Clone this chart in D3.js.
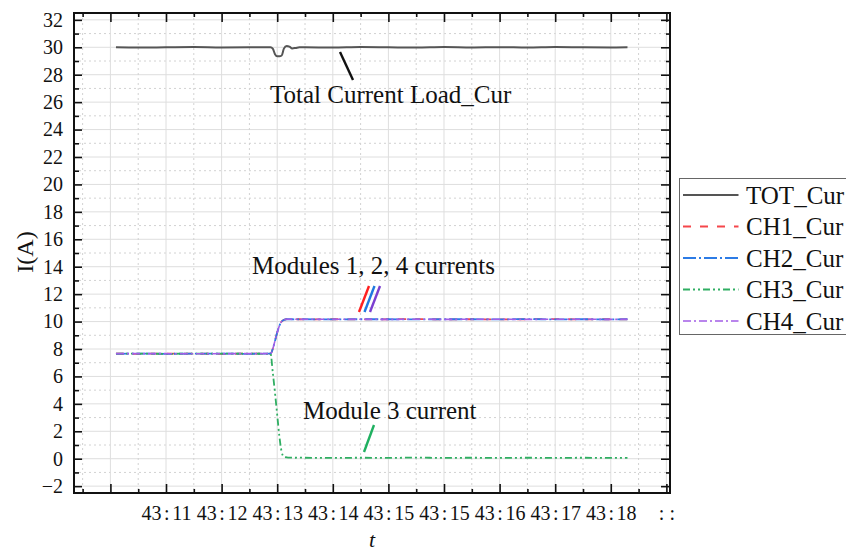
<!DOCTYPE html>
<html>
<head>
<meta charset="utf-8">
<script src="https://cdn.jsdelivr.net/npm/d3@7"></script>
<style>
  body { margin: 0; background: #fff; }
  text { font-family: "Liberation Serif", "Times New Roman", serif; fill: #111; }
</style>
</head>
<body>
<div id="chart-container"></div>
<script>
// time axis in "tick units" (tick i sits at t = i)
const timeSec = [0.1, 0.5, 1.0, 1.5, 2.0, 2.5, 2.8, 2.88, 2.92, 2.96, 3.0, 3.04, 3.08, 3.12, 3.17, 3.22, 3.27, 3.33, 3.4, 3.5,
                 4.0, 4.5, 5.0, 5.5, 6.0, 6.5, 7.0, 7.5, 8.0, 8.5, 9.0, 9.3];
const totCur = [30.0, 29.98, 30.0, 30.02, 29.99, 30.0, 30.0, 30.0, 29.9, 29.5, 29.35, 29.35, 29.4, 29.9, 30.1, 30.05, 29.92, 29.95, 30.0, 30.0,
                29.98, 30.02, 30.0, 29.98, 30.02, 29.99, 30.01, 29.98, 30.02, 30.0, 29.99, 30.0];
const ch1Cur = [7.66, 7.65, 7.67, 7.66, 7.65, 7.66, 7.66, 7.66, 8.0, 8.6, 9.2, 9.7, 10.0, 10.12, 10.18, 10.17, 10.16, 10.17, 10.17, 10.16,
                10.17, 10.16, 10.17, 10.18, 10.16, 10.17, 10.16, 10.17, 10.18, 10.16, 10.17, 10.16];
const ch2Cur = [7.65, 7.66, 7.65, 7.66, 7.66, 7.65, 7.66, 7.66, 8.0, 8.6, 9.2, 9.7, 10.0, 10.12, 10.17, 10.17, 10.17, 10.16, 10.17, 10.17,
                10.16, 10.17, 10.17, 10.16, 10.17, 10.17, 10.16, 10.18, 10.16, 10.17, 10.16, 10.17];
const ch3Cur = [7.66, 7.66, 7.65, 7.66, 7.66, 7.66, 7.65, 7.66, 6.3, 4.8, 3.2, 1.6, 0.5, 0.15, 0.1, 0.08, 0.08, 0.07, 0.08, 0.07,
                0.06, 0.07, 0.06, 0.08, 0.06, 0.07, 0.06, 0.07, 0.06, 0.07, 0.06, 0.06];
const ch4Cur = [7.66, 7.66, 7.66, 7.65, 7.66, 7.66, 7.66, 7.66, 8.0, 8.6, 9.2, 9.7, 10.0, 10.12, 10.17, 10.17, 10.16, 10.17, 10.16, 10.17,
                10.17, 10.17, 10.16, 10.17, 10.16, 10.17, 10.17, 10.16, 10.17, 10.17, 10.16, 10.17];

const xTickLabels = ["", "43:11", "43:12", "43:13", "43:14", "43:15", "43:15", "43:16", "43:17", "43:18", "::"];
const yTickValues = [-2, 0, 2, 4, 6, 8, 10, 12, 14, 16, 18, 20, 22, 24, 26, 28, 30, 32];
const seriesNames = ["TOT_Cur", "CH1_Cur", "CH2_Cur", "CH3_Cur", "CH4_Cur"];

// line styles
const styles = {
    TOT_Cur: { color: "#555555", dash: null, w: 2 },
    CH1_Cur: { color: "#f5464b", dash: "8,9", w: 1.8 },
    CH2_Cur: { color: "#2c7be5", dash: "13,3,2,3", w: 1.8 },
    CH3_Cur: { color: "#2fae62", dash: "7,3,2,3,2,3", w: 1.8 },
    CH4_Cur: { color: "#a25ee6", dash: "8,3,2,3", w: 1.6 }
};
const seriesValues = [totCur, ch1Cur, ch2Cur, ch3Cur, ch4Cur];

const W = 846, H = 553;
const margin = { top: 13, right: 176, bottom: 60, left: 74 };
const width = W - margin.left - margin.right, height = H - margin.top - margin.bottom;

const root = d3.select("#chart-container").append("svg")
    .attr("width", W).attr("height", H);
const svg = root.append("g").attr("transform", `translate(${margin.left},${margin.top})`);

const x = d3.scaleLinear().domain([-0.655, 10.065]).range([0, width]);
const y = d3.scaleLinear().domain([-2.5, 32.5]).range([height, 0]);

const xMajor = d3.range(0, 11, 1);
const xMinor = d3.range(-0.5, 10, 1);
const yMinor = d3.range(-1, 33, 2);

// grid
const grid = svg.append("g");
grid.selectAll(".gy").data(yTickValues).enter().append("line")
    .attr("x1", 0).attr("x2", width).attr("y1", d => y(d)).attr("y2", d => y(d))
    .attr("stroke", "#dedede").attr("stroke-width", 1);
grid.selectAll(".gym").data(yMinor).enter().append("line")
    .attr("x1", 0).attr("x2", width).attr("y1", d => y(d)).attr("y2", d => y(d))
    .attr("stroke", "#d2d2d2").attr("stroke-width", 1).attr("stroke-dasharray", "2,3");
grid.selectAll(".gx").data(xMajor).enter().append("line")
    .attr("y1", 0).attr("y2", height).attr("x1", d => x(d)).attr("x2", d => x(d))
    .attr("stroke", "#dedede").attr("stroke-width", 1);
grid.selectAll(".gxm").data(xMinor).enter().append("line")
    .attr("y1", 0).attr("y2", height).attr("x1", d => x(d)).attr("x2", d => x(d))
    .attr("stroke", "#d2d2d2").attr("stroke-width", 1).attr("stroke-dasharray", "2,3");

// lines
const line = d3.line().x(d => x(d[0])).y(d => y(d[1])).curve(d3.curveMonotoneX);
seriesNames.forEach((name, i) => {
    const s = styles[name];
    svg.append("path")
        .datum(timeSec.map((t, j) => [t, seriesValues[i][j]]))
        .attr("fill", "none")
        .attr("stroke", s.color)
        .attr("stroke-width", s.w)
        .attr("stroke-dasharray", s.dash)
        .attr("d", line);
});

// axes (ticks inside)
function tidy(g) {
    g.select(".domain").remove();
    g.attr("font-family", "Liberation Serif").attr("font-size", 20);
    g.selectAll(".tick line").attr("stroke", "#111").attr("stroke-width", 1.6);
}
svg.append("g").call(d3.axisLeft(y).tickValues(yTickValues).tickSize(-8).tickPadding(11))
    .call(tidy)
    .selectAll("text").attr("fill", "#222");
svg.append("g").call(d3.axisLeft(y).tickValues(yMinor).tickSize(-5).tickFormat("")).call(tidy);
svg.append("g").attr("transform", `translate(${width},0)`)
    .call(d3.axisRight(y).tickValues(yTickValues).tickSize(-9).tickFormat("")).call(tidy);
svg.append("g").attr("transform", `translate(${width},0)`)
    .call(d3.axisRight(y).tickValues(yMinor).tickSize(-4).tickFormat("")).call(tidy);
svg.append("g").call(d3.axisTop(x).tickValues(xMajor).tickSize(-9).tickFormat("")).call(tidy);
svg.append("g").call(d3.axisTop(x).tickValues(xMinor).tickSize(-4).tickFormat("")).call(tidy);
svg.append("g").attr("transform", `translate(0,${height})`)
    .call(d3.axisBottom(x).tickValues(xMinor).tickSize(-4).tickFormat("")).call(tidy);

const xAxis = svg.append("g").attr("transform", `translate(0,${height})`)
    .call(d3.axisBottom(x).tickValues(xMajor).tickSize(-9).tickFormat(""))
    .call(tidy);
// time labels: "mm:ss" with a bit of room round the colon
xAxis.selectAll(".tick").append("text")
    .attr("y", 27)
    .attr("text-anchor", "middle")
    .attr("fill", "#222")
    .each(function (d) {
        const lab = xTickLabels[d];
        if (!lab) return;
        const parts = lab.split(":");
        const t = d3.select(this);
        t.append("tspan").text(parts[0]);
        t.append("tspan").attr("dx", parts[0] ? 2.5 : 0).text(":");
        t.append("tspan").attr("dx", parts[1] ? 2.5 : 5).text(parts[1] || ":");
    });

// frame
svg.append("rect").attr("width", width).attr("height", height)
    .attr("fill", "none").attr("stroke", "#111").attr("stroke-width", 2);

// axis titles
root.append("text")
    .attr("transform", "translate(33,252) rotate(-90)")
    .attr("text-anchor", "middle")
    .style("font-size", "24px")
    .text("I(A)");
root.append("text")
    .attr("x", 372).attr("y", 547)
    .attr("text-anchor", "middle")
    .style("font-size", "22px").style("font-style", "italic")
    .text("t");

// annotations
const notes = [
    { text: "Total Current Load_Cur", x: 270, y: 103 },
    { text: "Modules 1, 2, 4 currents", x: 252, y: 274 },
    { text: "Module 3 current", x: 303, y: 419 }
];
root.selectAll(".note").data(notes).enter().append("text")
    .attr("x", d => d.x).attr("y", d => d.y)
    .style("font-size", "25px")
    .text(d => d.text);

const pointers = [
    { x1: 340, y1: 52, x2: 353, y2: 80, c: "#111" },
    { x1: 359, y1: 312, x2: 369, y2: 286, c: "#ff1f1f" },
    { x1: 364.5, y1: 312, x2: 374.5, y2: 286, c: "#1f78e0" },
    { x1: 370, y1: 312, x2: 380, y2: 286, c: "#7b3fd0" },
    { x1: 364, y1: 452, x2: 374, y2: 425, c: "#1fb060" }
];
root.selectAll(".ptr").data(pointers).enter().append("line")
    .attr("x1", d => d.x1).attr("y1", d => d.y1).attr("x2", d => d.x2).attr("y2", d => d.y2)
    .attr("stroke", d => d.c).attr("stroke-width", 2.4);

// legend
const legend = root.append("g").attr("transform", "translate(679.5,178.5)");
legend.append("rect").attr("width", 200).attr("height", 156)
    .attr("fill", "#fff").attr("stroke", "#666").attr("stroke-width", 1);
seriesNames.forEach((name, i) => {
    const s = styles[name];
    const ly = 16.5 + i * 31.5;
    legend.append("line")
        .attr("x1", 3.5).attr("x2", 59).attr("y1", ly).attr("y2", ly)
        .attr("stroke", s.color).attr("stroke-width", s.w)
        .attr("stroke-dasharray", s.dash);
    legend.append("text")
        .attr("x", 66.5).attr("y", ly).attr("dy", "0.35em")
        .style("font-size", "25px")
        .text(name);
});
</script>
</body>
</html>
